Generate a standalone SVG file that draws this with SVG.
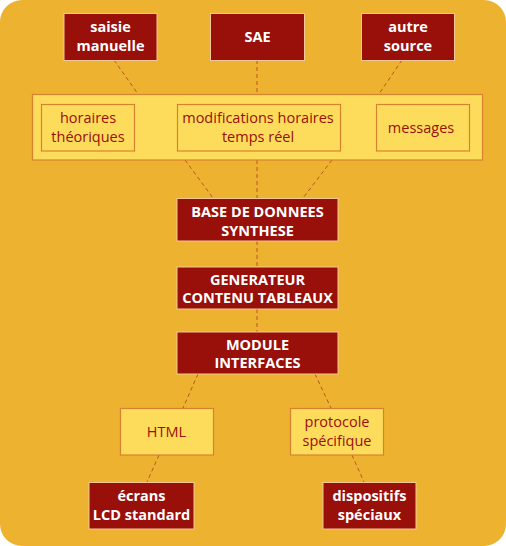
<svg xmlns="http://www.w3.org/2000/svg" width="506" height="546" viewBox="0 0 506 546">
<style>
.dark{fill:#990F0A;stroke:#F2C89A;stroke-width:1}
.light{fill:#FDDC5C;stroke:#D8822E;stroke-width:1.2}
.wt{font-family:"Open Sans","Liberation Sans",sans-serif;font-weight:bold;font-size:14.5px;fill:#FFFFFF;text-anchor:middle}
.rt{font-family:"Open Sans","Liberation Sans",sans-serif;font-size:14.5px;fill:#990F0A;text-anchor:middle}
.con line{stroke:#B8562A;stroke-width:1;stroke-dasharray:4 3;fill:none}
</style>
<rect x="0" y="0" width="506" height="546" fill="#FFFFFF"/>
<rect x="0" y="0" width="506" height="546" rx="22" ry="22" fill="#EDB22F"/>
<g class="con" id="connectors">
<line x1="114" y1="60" x2="138" y2="94"/>
<line x1="257" y1="60" x2="257" y2="94"/>
<line x1="402" y1="60" x2="379" y2="94"/>
<line x1="185" y1="160" x2="213" y2="198"/>
<line x1="257" y1="160" x2="257" y2="198"/>
<line x1="332" y1="160" x2="303" y2="198"/>
<line x1="257" y1="241" x2="257" y2="267"/>
<line x1="257" y1="309" x2="257" y2="332"/>
<line x1="198" y1="374" x2="183" y2="408"/>
<line x1="315" y1="374" x2="331" y2="408"/>
<line x1="159" y1="455" x2="147" y2="482"/>
<line x1="352" y1="455" x2="364" y2="482"/>
</g>
<g id="saisie"><rect class="dark" x="64" y="13.5" width="93" height="47"/><text class="wt" x="110.5" y="32">saisie</text><text class="wt" x="110.5" y="51">manuelle</text></g>
<g id="sae"><rect class="dark" x="210.5" y="13.5" width="94" height="47"/><text class="wt" x="257.5" y="42">SAE</text></g>
<g id="autre"><rect class="dark" x="361.5" y="13.5" width="93" height="47"/><text class="wt" x="408" y="32">autre</text><text class="wt" x="408" y="51">source</text></g>
<g id="donnees"><rect class="light" x="32.5" y="94.5" width="450" height="65.5"/></g>
<g id="horaires"><rect class="light" x="41.5" y="104.5" width="93" height="46.5"/><text class="rt" x="88" y="123">horaires</text><text class="rt" x="88" y="142">théoriques</text></g>
<g id="modifs"><rect class="light" x="177.5" y="104.5" width="163" height="46.5"/><text class="rt" x="258" y="123">modifications horaires</text><text class="rt" x="258" y="142">temps réel</text></g>
<g id="messages"><rect class="light" x="376.5" y="104.5" width="93" height="46.5"/><text class="rt" x="421" y="133">messages</text></g>
<g id="base"><rect class="dark" x="177" y="198.5" width="161" height="42.5"/><text class="wt" x="257.5" y="217">BASE DE DONNEES</text><text class="wt" x="257.5" y="236">SYNTHESE</text></g>
<g id="generateur"><rect class="dark" x="177" y="267" width="161" height="42"/><text class="wt" x="257.5" y="285">GENERATEUR</text><text class="wt" x="257.5" y="303">CONTENU TABLEAUX</text></g>
<g id="module"><rect class="dark" x="177" y="332" width="161" height="42"/><text class="wt" x="257.5" y="350">MODULE</text><text class="wt" x="257.5" y="368">INTERFACES</text></g>
<g id="html"><rect class="light" x="120.5" y="408.5" width="93" height="46.5"/><text class="rt" x="166.5" y="437">HTML</text></g>
<g id="protocole"><rect class="light" x="290.5" y="408.5" width="93" height="46.5"/><text class="rt" x="337" y="427">protocole</text><text class="rt" x="337" y="446">spécifique</text></g>
<g id="ecrans"><rect class="dark" x="89" y="482.5" width="105" height="46.5"/><text class="wt" x="141.5" y="501">écrans</text><text class="wt" x="141.5" y="520">LCD standard</text></g>
<g id="dispositifs"><rect class="dark" x="323" y="482.5" width="93" height="46.5"/><text class="wt" x="369.5" y="501">dispositifs</text><text class="wt" x="369.5" y="520">spéciaux</text></g>
</svg>
